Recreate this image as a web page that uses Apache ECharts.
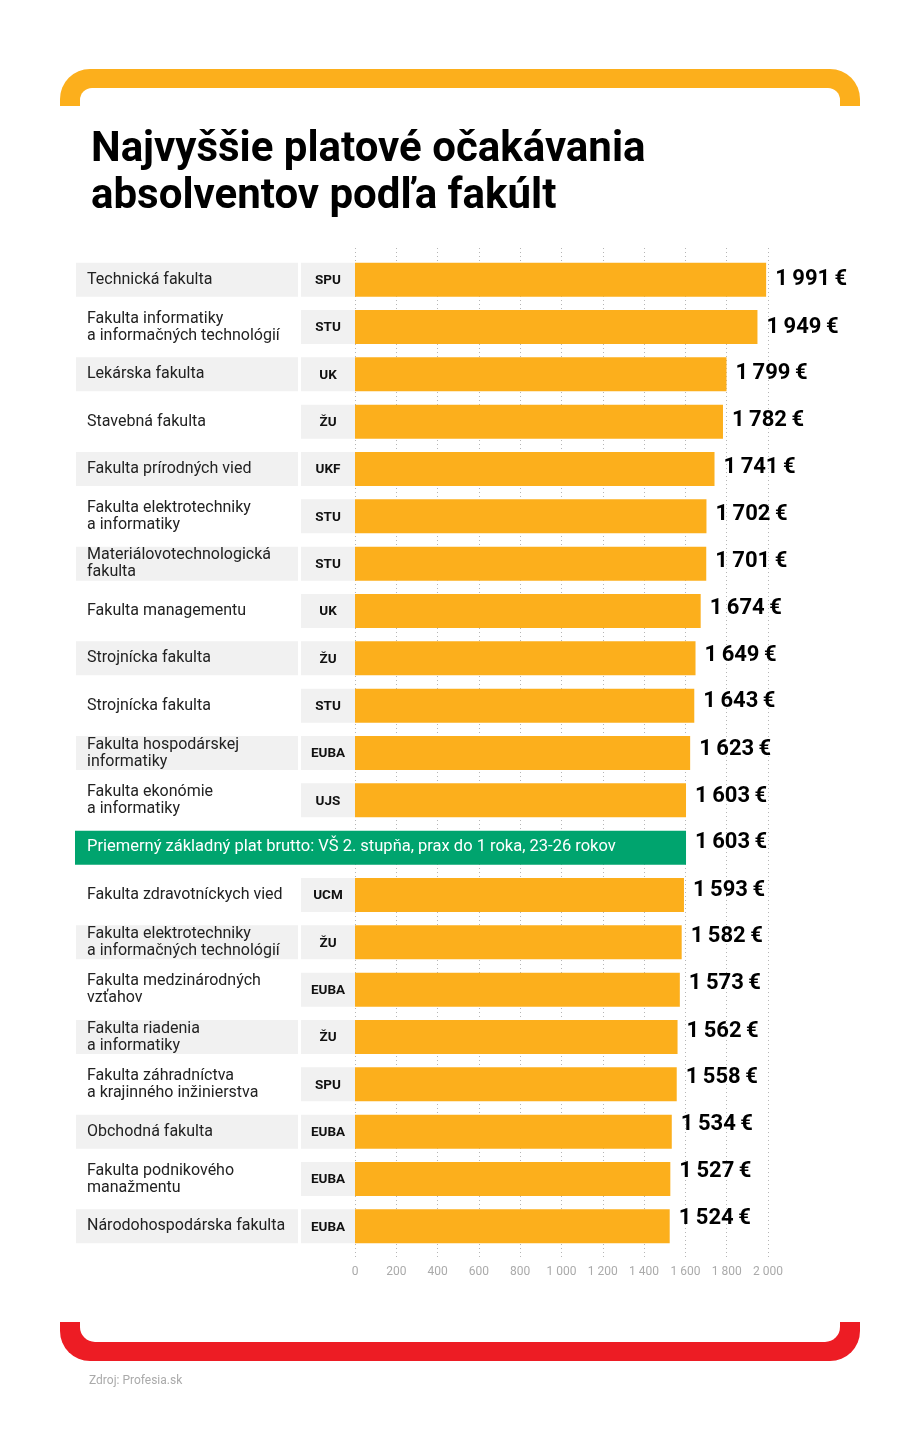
<!DOCTYPE html>
<html>
<head>
<meta charset="utf-8">
<script src="https://cdn.jsdelivr.net/npm/echarts@6.0.0/dist/echarts.min.js"></script>
<style>
  html, body { margin: 0; padding: 0; background: #fff; }
  #main { width: 920px; height: 1450px; }
</style>
</head>
<body>
<div id="main"></div>
<script>
// fakulty, skratky skol a platy (v poradi zhora nadol)
var faculties = [
  'Technická fakulta',
  'Fakulta informatiky\na informačných technológií',
  'Lekárska fakulta',
  'Stavebná fakulta',
  'Fakulta prírodných vied',
  'Fakulta elektrotechniky\na informatiky',
  'Materiálovotechnologická\nfakulta',
  'Fakulta managementu',
  'Strojnícka fakulta',
  'Strojnícka fakulta',
  'Fakulta hospodárskej\ninformatiky',
  'Fakulta ekonómie\na informatiky',
  'Priemerný základný plat brutto: VŠ 2. stupňa, prax do 1 roka, 23-26 rokov',
  'Fakulta zdravotníckych vied',
  'Fakulta elektrotechniky\na informačných technológií',
  'Fakulta medzinárodných\nvzťahov',
  'Fakulta riadenia\na informatiky',
  'Fakulta záhradníctva\na krajinného inžinierstva',
  'Obchodná fakulta',
  'Fakulta podnikového\nmanažmentu',
  'Národohospodárska fakulta'
];
var schools = ['SPU', 'STU', 'UK', 'ŽU', 'UKF', 'STU', 'STU', 'UK', 'ŽU', 'STU', 'EUBA', 'UJS',
  '', 'UCM', 'ŽU', 'EUBA', 'ŽU', 'SPU', 'EUBA', 'EUBA', 'EUBA'];
var salaries = [1991, 1949, 1799, 1782, 1741, 1702, 1701, 1674, 1649, 1643, 1623, 1603,
  1603, 1593, 1582, 1573, 1562, 1558, 1534, 1527, 1524];
var avgIndex = 12;   // riadok s priemernym platom
var xTicks = { min: 0, max: 2000, interval: 200 };

var ORANGE = '#FCAF1C', RED = '#ED1C24', GREEN = '#00A46E', GREY = '#F1F1F1';

function fmt(v) {
  return String(v).replace(/\B(?=(\d{3})+$)/g, '\u2009');
}

var rows = faculties.map(function (f, i) { return [0, i]; });

var myChart = echarts.init(document.getElementById('main'));

var option = {
  backgroundColor: '#fff',
  animation: false,
  title: {
    text: 'Najvyššie platové očakávania\nabsolventov podľa fakúlt',
    left: 86,
    top: 122,
    textStyle: {
      fontFamily: 'Roboto, sans-serif',
      fontWeight: 'bold',
      fontSize: 42,
      lineHeight: 47,
      color: '#000'
    }
  },
  graphic: [
    { type: 'rect', shape: { x: 60, y: 69, width: 800, height: 37, r: [30, 30, 0, 0] }, style: { fill: ORANGE } },
    { type: 'rect', shape: { x: 80, y: 88, width: 760, height: 18, r: [12, 12, 0, 0] }, style: { fill: '#fff' } },
    { type: 'rect', shape: { x: 60, y: 1322, width: 800, height: 39, r: [0, 0, 30, 30] }, style: { fill: RED } },
    { type: 'rect', shape: { x: 80, y: 1322, width: 760, height: 20, r: [0, 0, 15, 15] }, style: { fill: '#fff' } },
    {
      type: 'text', left: 89, top: 1375,
      style: { text: 'Zdroj: Profesia.sk', fill: '#aaa', fontSize: 12, fontFamily: 'Roboto, sans-serif' }
    }
  ],
  grid: [
    { left: 355, right: 152, top: 256, height: 994 },
    { left: 355, right: 152, top: 248, bottom: 193 }
  ],
  xAxis: [
    {
      gridIndex: 0, type: 'value', min: xTicks.min, max: xTicks.max, interval: xTicks.interval,
      show: false, splitLine: { show: false }
    },
    {
      gridIndex: 1, type: 'value', min: xTicks.min, max: xTicks.max, interval: xTicks.interval,
      axisLine: { show: false }, axisTick: { show: false },
      splitLine: { show: true, lineStyle: { color: '#b5b5b5', type: [1, 3], width: 1 } },
      axisLabel: {
        color: '#aaa', fontSize: 12, fontFamily: 'Roboto, sans-serif', margin: 9,
        formatter: function (v) { return String(v).replace(/\B(?=(\d{3})+$)/g, '\u00a0'); }
      }
    }
  ],
  yAxis: [
    { gridIndex: 0, type: 'category', data: faculties, inverse: true, show: false },
    { gridIndex: 1, type: 'value', show: false, min: 0, max: 1 }
  ],
  series: [
    {
      type: 'custom',
      xAxisIndex: 0, yAxisIndex: 0,
      z: 5,
      data: rows,
      encode: { x: 0, y: 1 },
      renderItem: function (params, api) {
        var i = api.value(1);
        var c = api.coord([0, i]);
        var h = 34, y = c[1] - h / 2;
        var kids = [];
        if (i === avgIndex) {
          kids.push({ type: 'rect', shape: { x: 75, y: y, width: c[0] - 75, height: h }, style: { fill: GREEN } });
          kids.push({
            type: 'text',
            style: {
              x: 87, y: c[1] - 1, text: faculties[i], fill: '#fff', fontSize: 16.5,
              fontFamily: 'Roboto, sans-serif', verticalAlign: 'middle'
            }
          });
        } else {
          if (i % 2 === 0) {
            kids.push({ type: 'rect', shape: { x: 76, y: y, width: 222, height: h }, style: { fill: GREY } });
          }
          kids.push({ type: 'rect', shape: { x: 301, y: y, width: c[0] - 301, height: h }, style: { fill: GREY } });
          kids.push({
            type: 'text',
            style: {
              x: 87, y: c[1], text: faculties[i], fill: '#222', fontSize: 16,
              lineHeight: 17, fontFamily: 'Roboto, sans-serif', verticalAlign: 'middle'
            }
          });
          kids.push({
            type: 'text',
            style: {
              x: 328, y: c[1] + 1, text: schools[i], fill: '#111', fontSize: 13.5, fontWeight: 'bold',
              fontFamily: 'Roboto, sans-serif', align: 'center', verticalAlign: 'middle'
            }
          });
        }
        return { type: 'group', children: kids };
      }
    },
    {
      type: 'bar',
      xAxisIndex: 0, yAxisIndex: 0,
      barWidth: 34,
      z: 4,
      data: salaries.map(function (v, i) {
        var item = { value: v, label: { offset: [0, -Math.round(8 * i / 20)] } };
        if (i === avgIndex) item.itemStyle = { color: GREEN };
        return item;
      }),
      itemStyle: { color: ORANGE },
      label: {
        show: true, position: 'right', distance: 9,
        formatter: function (p) { return fmt(p.value) + '\u2009€'; },
        color: '#000', fontSize: 22, fontWeight: 'bold',
        fontFamily: 'Roboto, sans-serif'
      }
    },
    {
      type: 'scatter', xAxisIndex: 1, yAxisIndex: 1, data: []
    }
  ]
};

myChart.setOption(option);
</script>
</body>
</html>
